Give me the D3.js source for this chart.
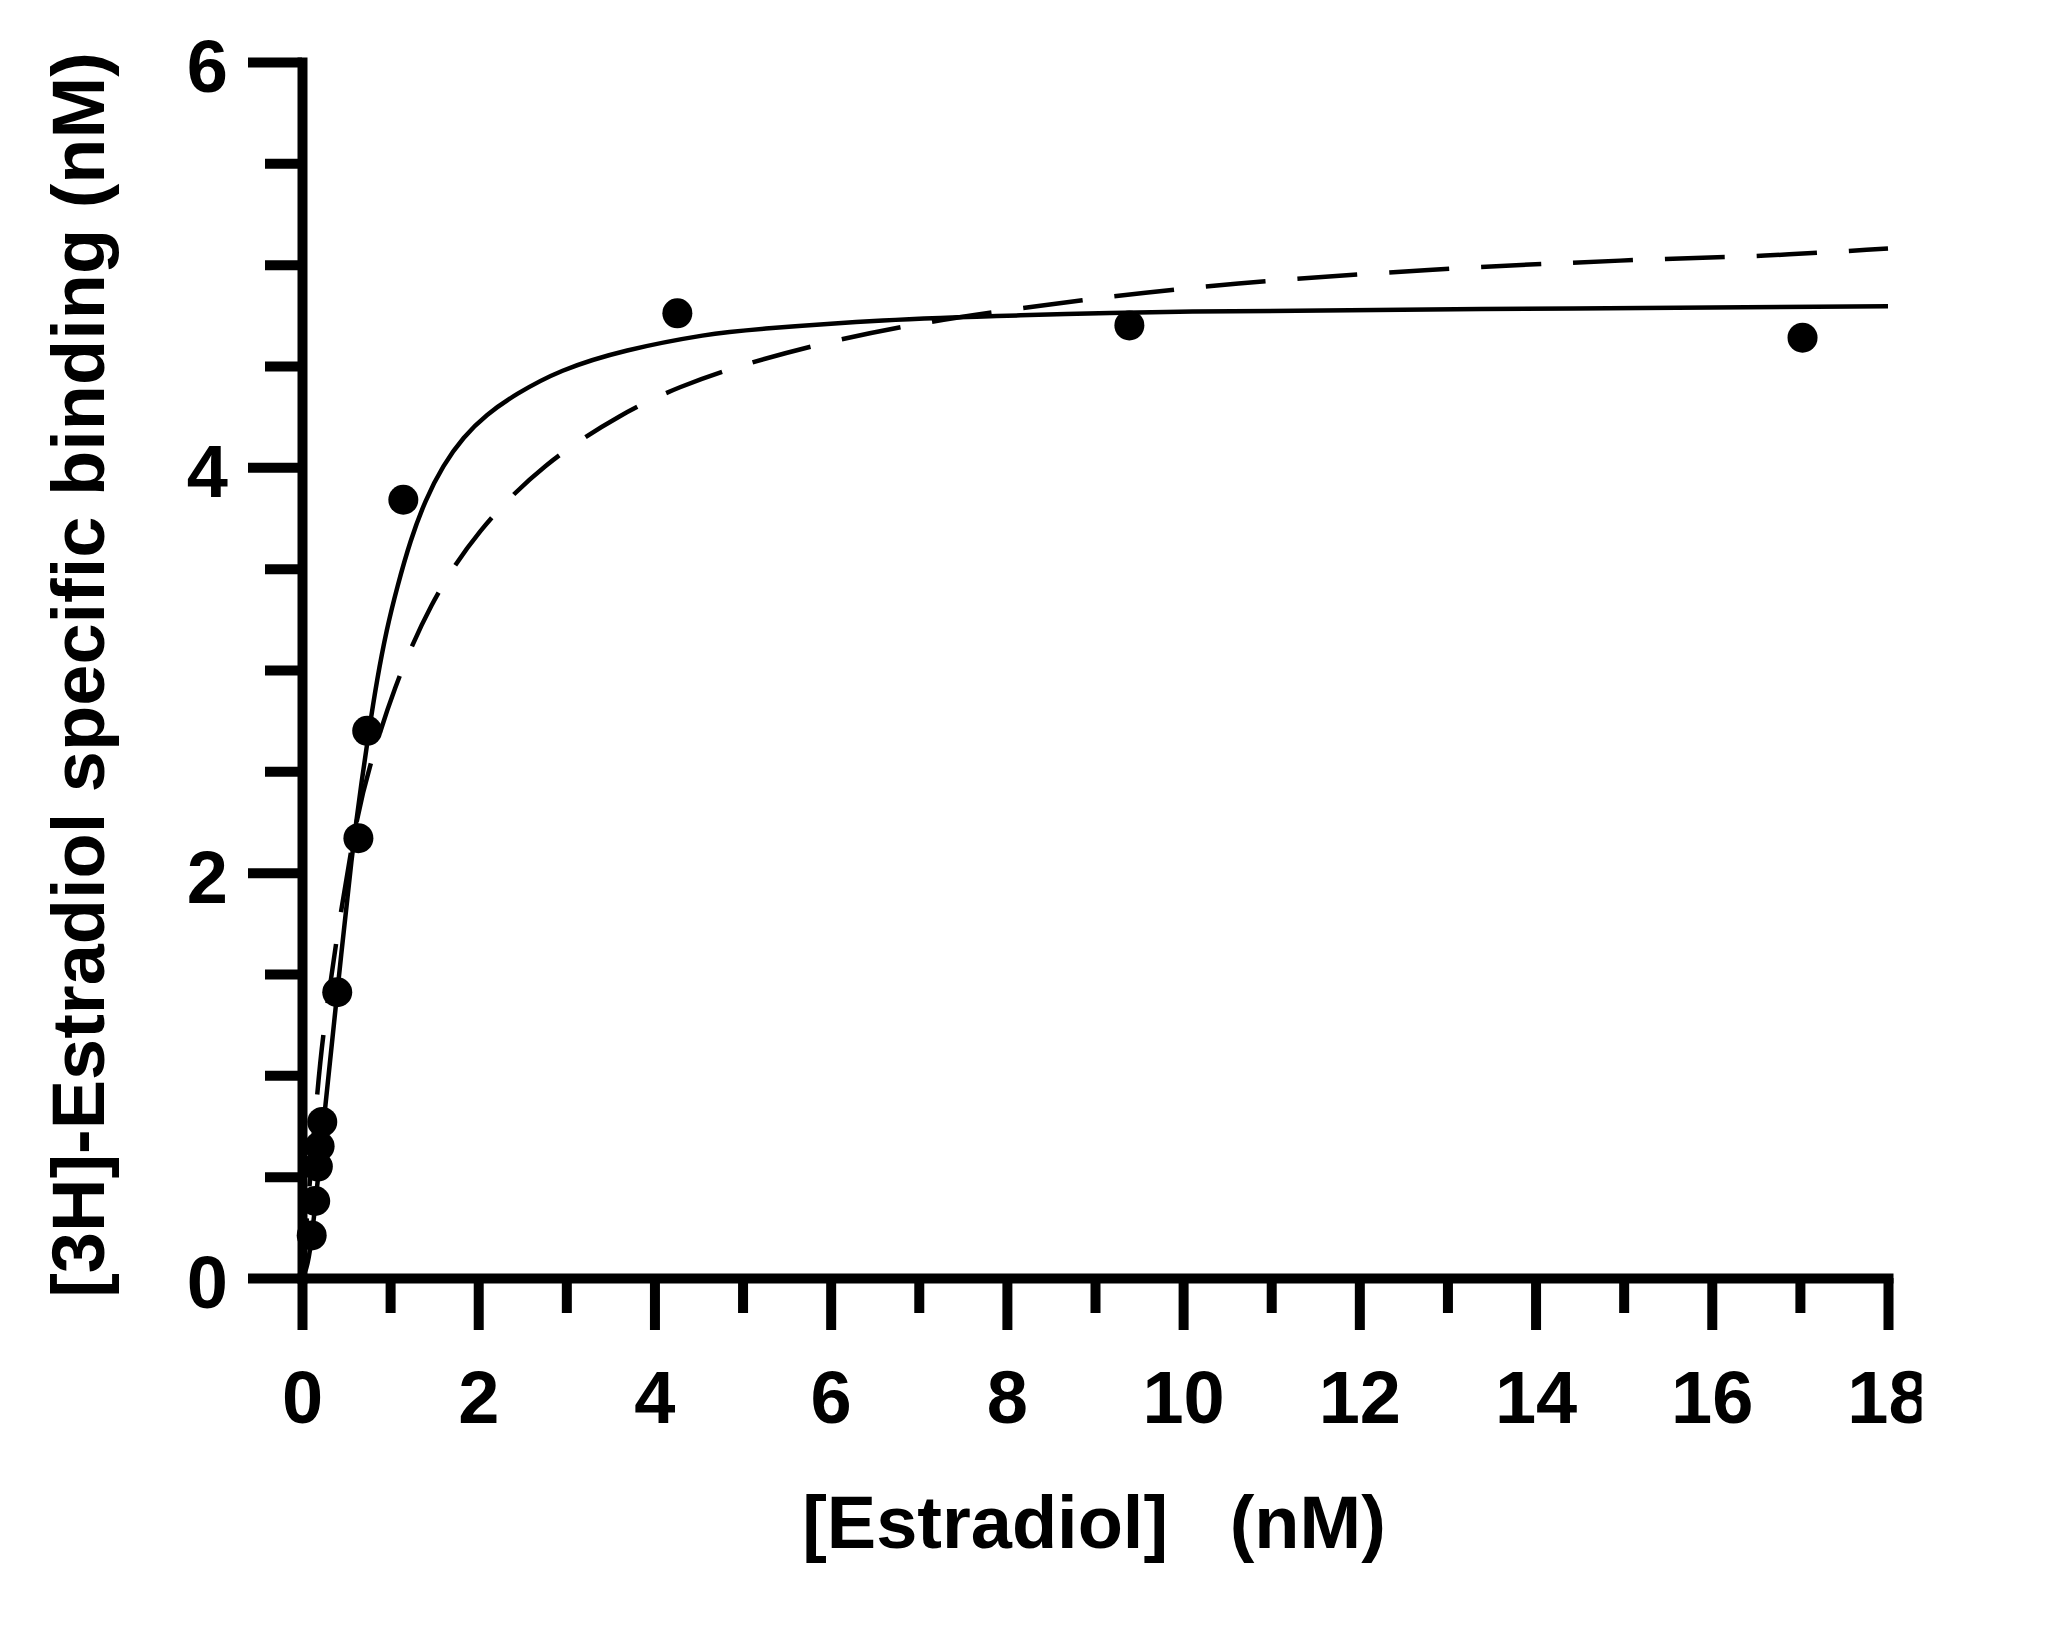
<!DOCTYPE html>
<html><head><meta charset="utf-8">
<script src="https://cdn.jsdelivr.net/npm/d3@7"></script>
<style>
html,body{margin:0;padding:0;background:#fff;}
svg{display:block;background:#fff;}
text{font-family:"Liberation Sans",Arial,Helvetica,sans-serif;font-weight:bold;fill:#000;}
</style></head><body>
<svg id="chart" width="2054" height="1629"></svg>
<script>
// ---- data ----
const pointsX = [0.11, 0.15, 0.18, 0.20, 0.23, 0.40, 0.64, 0.74, 1.15, 4.26, 9.39, 17.03];
const pointsY = [0.21, 0.38, 0.55, 0.65, 0.77, 1.41, 2.17, 2.70, 3.84, 4.76, 4.70, 4.64];

const solidX = [0, 0.05, 0.10, 0.16, 0.26, 0.40, 0.57, 0.68, 0.76, 0.85, 0.96, 1.08, 1.23, 1.40, 1.60, 1.83, 2.09, 2.42, 2.92, 3.65, 4.63, 5.09, 6.59, 8.12, 9.85, 13.12, 18];
const solidY = [0, 0.04, 0.15, 0.40, 0.83, 1.41, 2.11, 2.46, 2.70, 2.95, 3.20, 3.41, 3.64, 3.84, 4.01, 4.15, 4.26, 4.36, 4.48, 4.58, 4.66, 4.68, 4.73, 4.75, 4.77, 4.78, 4.795];

const dashX = [0, 0.17, 0.24, 0.40, 0.62, 0.77, 1.03, 1.45, 1.99, 2.74, 3.64, 4.29, 4.94, 5.96, 6.98, 8.07, 9.11, 10.17, 11.21, 12.28, 13.36, 14.43, 15.47, 16.54, 18];
const dashY = [0, 0.91, 1.21, 1.70, 2.28, 2.53, 2.90, 3.33, 3.69, 4.02, 4.27, 4.40, 4.50, 4.62, 4.71, 4.78, 4.84, 4.89, 4.93, 4.96, 4.99, 5.01, 5.03, 5.04, 5.08];

const xMajorTicks = [0, 2, 4, 6, 8, 10, 12, 14, 16, 18];
const xMinorTicks = [1, 3, 5, 7, 9, 11, 13, 15, 17];
const yMajorTicks = [0, 2, 4, 6];
const yMinorTicks = [0.5, 1, 1.5, 2.5, 3, 3.5, 4.5, 5, 5.5];

const xTitle = "[Estradiol]   (nM)";
const yTitle = "[3H]-Estradiol specific binding (nM)";

// ---- drawing ----
const svg = d3.select("#chart");
const x = d3.scaleLinear().domain([0, 18]).range([302, 1888]);
const y = d3.scaleLinear().domain([0, 6]).range([1278, 62]);
const FS = 74;

svg.append("defs").append("clipPath").attr("id", "xclip")
  .append("rect").attr("x", -100).attr("y", -100).attr("width", 1921 - x(18) + 100).attr("height", 400);

function style(g, showDomain) {
  g.select(".domain").attr("stroke", "#000").attr("stroke-width", showDomain ? 10 : 0)
    .attr("stroke-linecap", "square");
  g.selectAll(".tick line").attr("stroke", "#000").attr("stroke-width", 10);
  g.selectAll("text").attr("font-size", FS).attr("fill", "#000")
    .style("font-family", '"Liberation Sans",Arial,Helvetica,sans-serif').style("font-weight", "bold");
}

// x axis minor
const gxMinor = svg.append("g").attr("transform", `translate(0,${y(0)})`)
  .call(d3.axisBottom(x).tickValues(xMinorTicks).tickSize(35).tickSizeOuter(0).tickFormat(""));
style(gxMinor, false);
// y axis minor
const gyMinor = svg.append("g").attr("transform", `translate(${x(0)},0)`)
  .call(d3.axisLeft(y).tickValues(yMinorTicks).tickSize(37).tickSizeOuter(0).tickFormat(""));
style(gyMinor, false);

// x axis major
const gx = svg.append("g").attr("transform", `translate(0,${y(0)})`)
  .call(d3.axisBottom(x).tickValues(xMajorTicks).tickSize(52).tickSizeOuter(0).tickPadding(40).tickFormat(d3.format("d")));
style(gx, true);
gx.selectAll(".tick").filter(d => d === 18).attr("clip-path", "url(#xclip)");

// y axis major
const gy = svg.append("g").attr("transform", `translate(${x(0)},0)`)
  .call(d3.axisLeft(y).tickValues(yMajorTicks).tickSize(54).tickSizeOuter(0).tickPadding(20).tickFormat(d3.format("d")));
style(gy, true);
gy.selectAll(".tick text").attr("dy", "0.40em");

// curves
const solidData = solidX.map((v, i) => [v, solidY[i]]);
const dashData = dashX.map((v, i) => [v, dashY[i]]);
const line = d3.line().x(d => x(d[0])).y(d => y(d[1])).curve(d3.curveBasis);

svg.append("path").datum(dashData).attr("d", line)
  .attr("fill", "none").attr("stroke", "#000").attr("stroke-width", 4.5)
  .attr("stroke-dasharray", "60,32");
svg.append("path").datum(solidData).attr("d", line)
  .attr("fill", "none").attr("stroke", "#000").attr("stroke-width", 4.5);

// points
svg.append("g").selectAll("circle").data(pointsX.map((v, i) => [v, pointsY[i]]))
  .join("circle").attr("cx", d => x(d[0])).attr("cy", d => y(d[1])).attr("r", 15).attr("fill", "#000");

// titles
svg.append("text").attr("x", 1094).attr("y", 1548).attr("text-anchor", "middle")
  .attr("font-size", FS).style("white-space", "pre").attr("xml:space", "preserve").text(xTitle);
svg.append("text").attr("transform", "translate(104,675) rotate(-90)").attr("text-anchor", "middle")
  .attr("font-size", FS).text(yTitle);
</script>
</body></html>
